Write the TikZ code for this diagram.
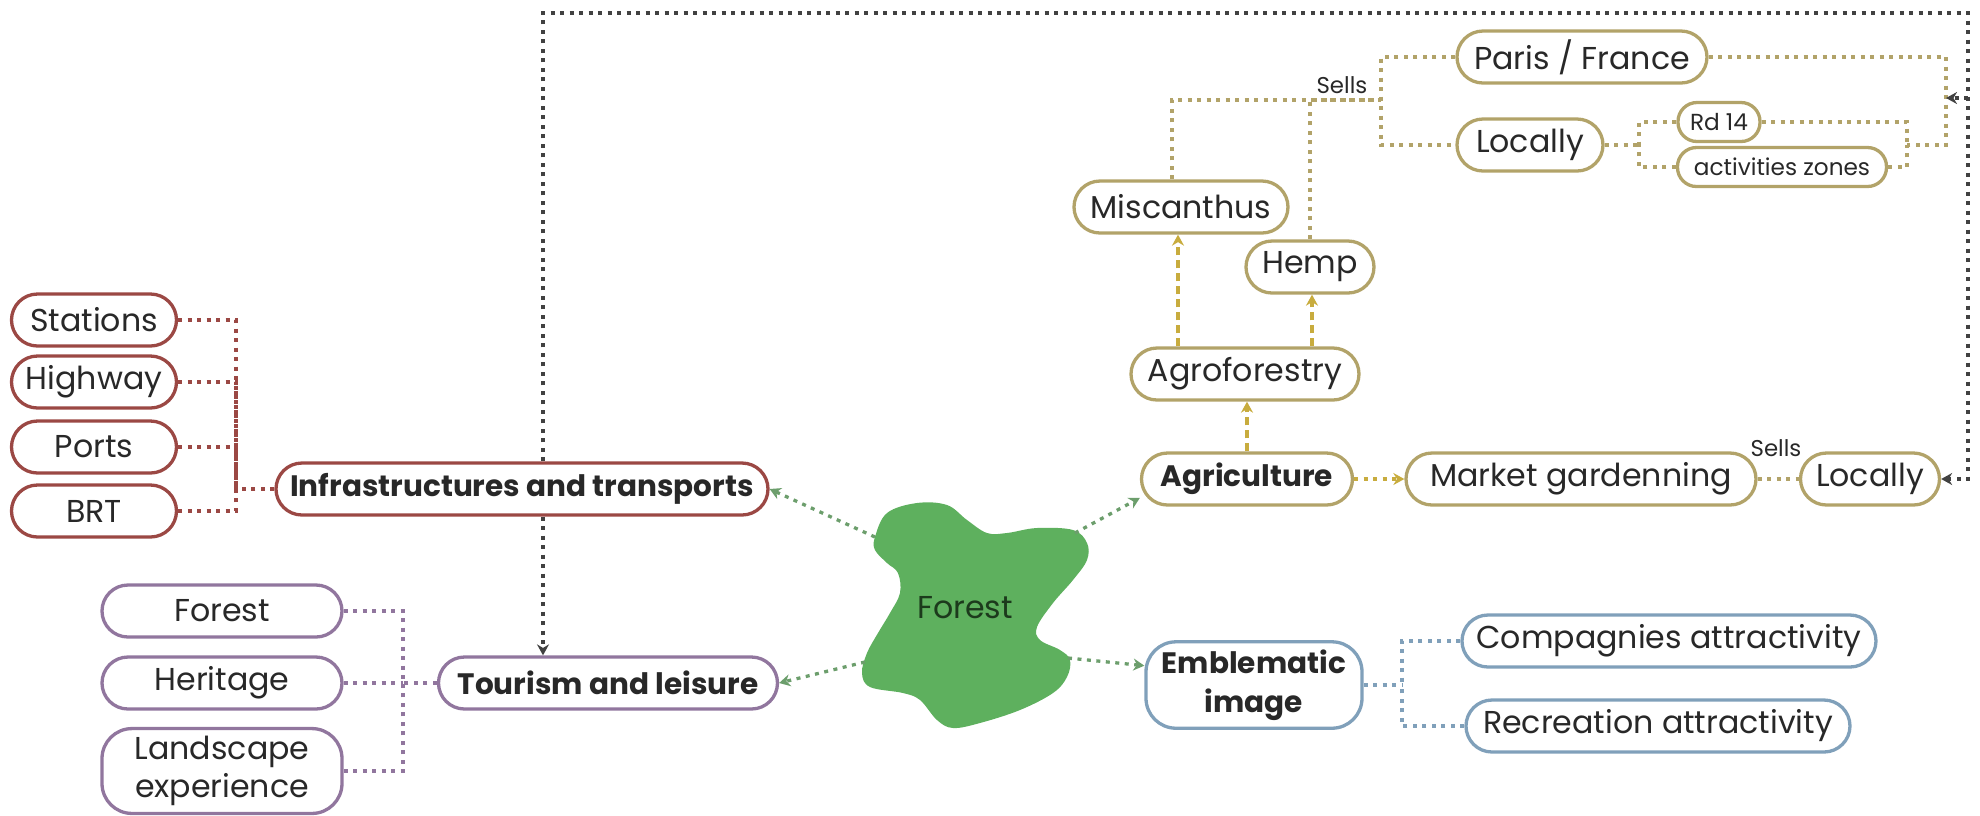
\documentclass[tikz,border=0pt]{standalone}
\usepackage{fontspec}
\setmainfont{Poppins}
\usetikzlibrary{arrows.meta}
\definecolor{infc}{RGB}{155,72,68}
\definecolor{tourc}{RGB}{145,118,158}
\definecolor{agric}{RGB}{178,163,105}
\definecolor{agrid}{RGB}{200,172,62}
\definecolor{emblc}{RGB}{128,160,186}
\definecolor{blobc}{RGB}{94,176,94}
\definecolor{greenl}{RGB}{108,158,108}
\definecolor{blkc}{RGB}{65,65,65}
\definecolor{txt}{RGB}{40,40,40}
\definecolor{forestt}{RGB}{28,58,28}
\newcommand{\boxfont}{\fontsize{9}{10.6}\selectfont}
\newcommand{\boldbox}{\fontsize{8.4}{11}\selectfont\bfseries}
\newcommand{\smallbox}{\fontsize{6.6}{8}\selectfont}
\begin{document}
\begin{tikzpicture}[x=0.1mm,y=-0.1mm,
  box/.style={rectangle,rounded corners=2.6mm,draw=#1,line width=0.33mm,fill=white,
    inner xsep=0.5mm,inner ysep=0.8mm,minimum height=5.2mm,text=txt,font=\boxfont,align=center},
  tall/.style={rounded corners=3mm},
  tiny/.style={rounded corners=1.9mm,minimum height=3.9mm,inner ysep=0.4mm,font=\smallbox},
  link/.style={draw=#1,line width=0.33mm,dash pattern=on 0.4mm off 0.55mm},
  dlink/.style={draw=#1,line width=0.33mm,dash pattern=on 0.8mm off 0.5mm},
  arr/.style={-{Stealth[length=1.1mm,width=1.2mm]}},
  lbl/.style={text=txt,font=\fontsize{6.5}{8}\selectfont,inner sep=0.5mm}]
  \useasboundingbox (0,0) rectangle (1980,815);

  % macchia verde al centro
  \fill[blobc] plot[smooth cycle,tension=0.6] coordinates {
    (875,537) (887,513) (917,503) (947,505) (967,520) (987,533) (1007,533)
    (1037,528) (1073,530) (1087,543) (1087,560) (1073,580) (1053,603)
    (1037,627) (1040,640) (1060,650) (1070,660) (1067,677) (1053,693)
    (1020,710) (980,723) (953,728) (937,720) (920,700) (903,693) (870,687)
    (862,673) (867,653) (878,633) (890,613) (900,593) (898,573) (887,563)
    (875,550)};
  \node[text=forestt,font=\boxfont] (forest) at (965,608) {Forest};
  \coordinate (b1) at (875,537);
  \coordinate (b2) at (1075,533);
  \coordinate (b3) at (865,662);
  \coordinate (b4) at (1068,658);

  % infrastrutture
  \node[box=infc,minimum width=16.5mm] (stations) at (94,320) {Stations};
  \node[box=infc,minimum width=16.5mm] (highway) at (94,382) {Highway};
  \node[box=infc,minimum width=16.5mm] (ports) at (94,447) {Ports};
  \node[box=infc,minimum width=16.5mm] (brt) at (94,511) {BRT};
  \node[box=infc,minimum width=49.2mm,font=\boldbox] (infra) at (522,489) {Infrastructures and transports};
  \coordinate (ibus) at (236,489);
  \draw[link=infc] (infra.west) -- (ibus);
  \foreach \n in {stations,highway,ports,brt} {
    \draw[link=infc] (\n.east) -| (ibus);
  }

  % turismo
  \node[box=tourc,minimum width=24mm] (tforest) at (222,611) {Forest};
  \node[box=tourc,minimum width=24mm] (heritage) at (222,683) {Heritage};
  \node[box=tourc,tall,minimum width=24mm] (landscape) at (222,771) {Landscape\\experience};
  \node[box=tourc,minimum width=33.9mm,font=\boldbox] (tour) at (608,683) {Tourism and leisure};
  \coordinate (tbus) at (403,683);
  \draw[link=tourc] (tour.west) -- (tbus);
  \foreach \n in {tforest,heritage,landscape} {
    \draw[link=tourc] (\n.east) -| (tbus);
  }

  % agricoltura
  \node[box=agric,minimum width=21.1mm,font=\boldbox] (agri) at (1247,479) {Agriculture};
  \node[box=agric,minimum width=35mm] (market) at (1581,479) {Market gardenning};
  \node[box=agric,minimum width=13.9mm] (locR) at (1870,479) {Locally};
  \node[box=agric,minimum width=22.8mm] (agrof) at (1245,374) {Agroforestry};
  \node[box=agric,minimum width=21.4mm] (misc) at (1181,207) {Miscanthus};
  \node[box=agric,minimum width=12.8mm] (hemp) at (1310,267) {Hemp};
  \node[box=agric,minimum width=25mm] (paris) at (1582,57) {Paris / France};
  \node[box=agric,minimum width=14.6mm] (locT) at (1530,145) {Locally};
  \node[box=agric,tiny,minimum width=8.2mm] (rd14) at (1719,122) {Rd 14};
  \node[box=agric,tiny,minimum width=20.9mm] (actz) at (1782,167) {activities zones};

  \draw[dlink=agrid,arr] (agri.north) -- (agri.north |- agrof.south);
  \draw[dlink=agrid,arr] ([xshift=-6.7mm]agrof.north) -- ([xshift=-6.7mm]agrof.north |- misc.south);
  \draw[dlink=agrid,arr] ([xshift=6.7mm]agrof.north) -- ([xshift=6.7mm]agrof.north |- hemp.south);
  \draw[link=agrid,arr] (agri.east) -- (market.west);
  \draw[link=agric] (market.east) -- (locR.west);
  \node[lbl] (sells2) at (1776,448) {Sells};

  \coordinate (sellbus) at (1381,100);
  \draw[link=agric] ([xshift=-0.9mm]misc.north) |- (sellbus);
  \draw[link=agric] (hemp.north) |- (sellbus);
  \draw[link=agric] (paris.west) -| (sellbus) |- (locT.west);
  \node[lbl,anchor=east] (sells1) at (1373,85) {Sells};
  \coordinate (lbus) at (1639,145);
  \coordinate (rbus) at (1907,145);
  \coordinate (parbus) at (1946,98);
  \draw[link=agric] (locT.east) -- (lbus);
  \draw[link=agric] (rd14.west) -| (lbus);
  \draw[link=agric] (actz.west) -| (lbus);
  \draw[link=agric] (rd14.east) -| (rbus);
  \draw[link=agric] (actz.east) -| (rbus);
  \draw[link=agric] (paris.east) -| (rbus -| parbus) -- (rbus);

  % immagine
  \node[box=emblc,tall,minimum width=21.6mm,font=\boldbox] (embl) at (1254,685) {Emblematic\\image};
  \node[box=emblc,minimum width=41.4mm] (comp) at (1669,641) {Compagnies attractivity};
  \node[box=emblc,minimum width=38.4mm] (recr) at (1658,726) {Recreation attractivity};
  \coordinate (ebus) at (1402,685);
  \draw[link=emblc] (embl.east) -- (ebus);
  \draw[link=emblc] (comp.west) -| (ebus);
  \draw[link=emblc] (recr.west) -| (ebus);

  % frecce verdi dalla foresta
  \draw[link=greenl,arr] (b1) -- (infra.east);
  \draw[link=greenl,arr] (b2) -- (agri.190);
  \draw[link=greenl,arr] (b3) -- (tour.east);
  \draw[link=greenl,arr] (b4) -- (embl.170);

  % linea nera
  \coordinate (topR) at (1968,13);
  \draw[link=blkc,arr] ([xshift=2.1mm]infra.north) |- (topR) |- (locR.east);
  \draw[link=blkc,arr] (topR |- parbus) -- (parbus);
  \draw[link=blkc,arr] ([xshift=2.1mm]infra.south) -- ([xshift=2.1mm]infra.south |- tour.north);
\end{tikzpicture}
\end{document}
